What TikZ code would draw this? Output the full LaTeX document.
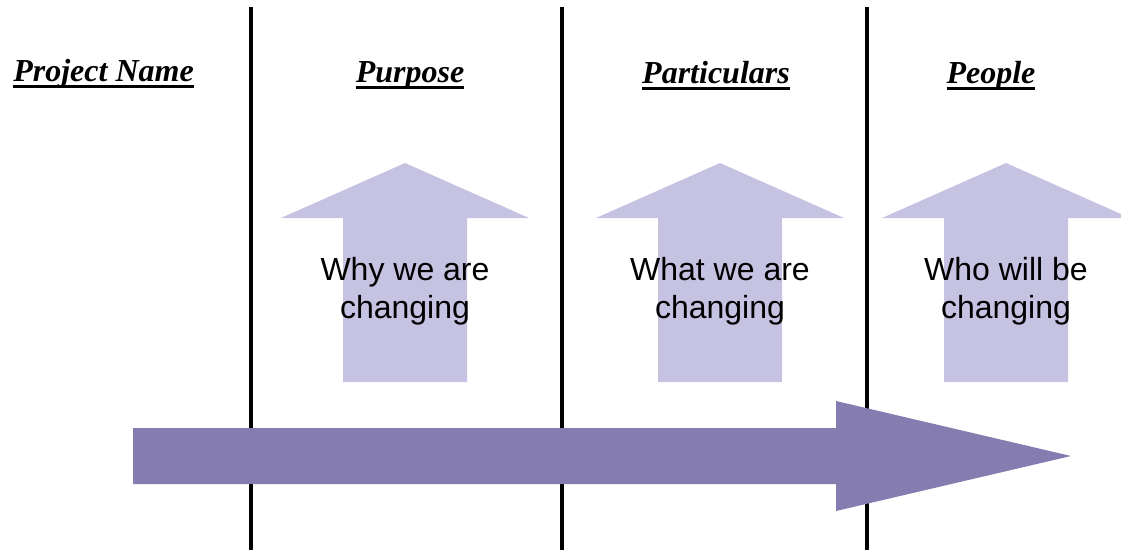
\documentclass[tikz,border=0pt]{standalone}
\usepackage{fontspec}
\setmainfont{Liberation Serif}
\newfontfamily\arial{Liberation Sans}
\usepackage{xcolor}
\definecolor{lilac}{RGB}{198,195,226}
\definecolor{dpurple}{RGB}{133,124,176}
\usepackage{tikz}
\usetikzlibrary{positioning}

% heading text with a thick rule under it
\newcommand{\headul}[1]{\setbox0\hbox{#1}\rlap{\rule[-4.9pt]{\wd0}{2pt}}\box0}

\begin{document}
\begin{tikzpicture}[
  x=0.75pt,y=-0.75pt,
  head/.style={anchor=base,inner sep=0pt,font=\fontsize{24}{28}\selectfont\bfseries\itshape},
  note/.style={align=center,inner sep=0pt,font=\arial\fontsize{24}{28.9}\selectfont},
  divider/.style={line width=3pt,black},
  upbox/.style={fill=lilac},
  flow/.style={fill=dpurple}
]
  \useasboundingbox (0,0) rectangle (1121,550);
  \clip (0,0) rectangle (1121,550);

  % column dividers
  \foreach \x in {251,562,867}
    \draw[divider] (\x,7) -- (\x,550);

  % column headings
  \node[head] (pname) at (103.5,81) {\headul{Project Name}};
  \node[head] (purpose) at (410,82) {\headul{Purpose}};
  \node[head] (partic) at (716,83) {\headul{Particulars}};
  \node[head] (people) at (991,83) {\headul{People}};

  % up arrows with their notes
  \foreach \cx/\nm/\txt in {405/why/{Why we are\\changing},720/what/{What we are\\changing},1006/who/{Who will be\\changing}} {
    \fill[upbox] (\cx-62,382) -- (\cx-62,218) -- (\cx-124,218) -- (\cx,163)
      -- (\cx+124,218) -- (\cx+62,218) -- (\cx+62,382) -- cycle;
    \node[note] (\nm) at (\cx,291) {\txt};
  }

  % long arrow across the columns
  \fill[flow] (133,428) -- (836,428) -- (836,401) -- (1071,456) -- (836,511)
    -- (836,484) -- (133,484) -- cycle;
\end{tikzpicture}
\end{document}
